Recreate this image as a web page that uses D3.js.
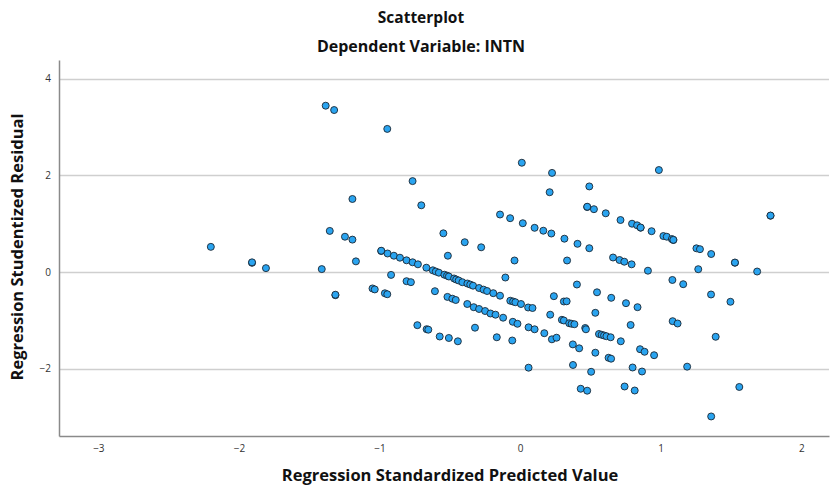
<!DOCTYPE html>
<html><head><meta charset="utf-8">
<script src="https://cdn.jsdelivr.net/npm/d3@7"></script>
<style>body{margin:0;background:#fff}svg{display:block}</style>
</head><body>
<script>
// Regression standardized predicted value (x) and studentized residual (y)
const predicted = [
 -2.20,-1.907,-1.907,-1.808,-1.411,-1.383,-1.323,-0.945,-1.314,-1.314,-1.354,-1.246,-1.193,-1.193,-1.168,
 -1.050,-1.034,-0.962,-0.945,-0.918,-0.808,-0.777,-0.765,-0.703,-0.731,
 -0.988,-0.988,-0.943,-0.898,-0.855,-0.808,-0.765,-0.727,-0.667,-0.621,-0.60,-0.578,-0.539,-0.52,-0.507,-0.470,-0.455,-0.437,-0.411,-0.375,-0.355,-0.335,-0.292,-0.26,-0.235,-0.191,-0.143,-0.070,-0.05,-0.034,0.006,0.057,0.088,
 -0.606,-0.517,-0.482,-0.458,-0.376,-0.330,-0.292,-0.249,-0.211,-0.175,-0.121,-0.052,-0.019,0.060,0.103,0.172,0.226,0.259,0.375,0.420,
 -0.665,-0.653,-0.572,-0.507,-0.443,
 -0.514,-0.394,-0.277,-0.040,-0.105,-0.546,-0.321,-0.166,-0.056,0.060,
 0.012,0.227,0.210,0.492,0.477,0.477,0.525,0.609,0.714,0.796,0.832,0.857,0.857,0.935,1.019,1.043,1.079,1.090,1.090,1.254,1.279,1.359,1.528,1.528,1.686,1.781,1.781,0.987,
 -0.143,-0.071,0.019,0.103,0.165,0.222,0.315,0.408,0.492,0.661,0.707,0.741,0.793,0.909,0.334,1.267,1.083,1.160,1.358,1.496,
 0.404,0.547,0.648,0.753,0.835,0.240,0.311,0.331,0.214,0.297,0.311,0.349,0.366,0.386,0.463,0.468,0.535,0.561,0.580,0.597,0.614,0.644,0.716,0.786,
 0.535,0.629,0.647,0.853,0.885,0.953,0.376,0.505,0.800,0.867,0.431,0.477,0.743,0.815,1.085,1.120,1.391,1.188,1.559,1.359
];
const residual = [
 0.52,0.19,0.20,0.08,0.06,3.44,3.35,2.96,-0.48,-0.47,0.85,0.73,0.67,1.51,0.22,
 -0.34,-0.36,-0.44,-0.46,-0.06,-0.19,-0.21,1.88,1.38,-1.10,
 0.434,0.44,0.383,0.337,0.296,0.242,0.201,0.159,0.089,0.035,0.01,-0.014,-0.056,-0.075,-0.093,-0.134,-0.155,-0.176,-0.211,-0.238,-0.26,-0.283,-0.331,-0.365,-0.393,-0.438,-0.490,-0.594,-0.61,-0.625,-0.662,-0.734,-0.745,
 -0.397,-0.515,-0.552,-0.579,-0.662,-0.728,-0.765,-0.807,-0.858,-0.883,-0.945,-1.030,-1.071,-1.144,-1.185,-1.266,-1.392,-1.359,-1.497,-1.578,
 -1.183,-1.193,-1.334,-1.365,-1.433,
 0.337,0.616,0.511,0.238,-0.114,0.800,-1.152,-1.350,-1.417,-1.979,
 2.26,2.05,1.65,1.77,1.344,1.35,1.299,1.214,1.075,0.999,0.966,0.916,0.92,0.844,0.744,0.730,0.682,0.662,0.665,0.490,0.472,0.372,0.192,0.195,0.010,1.164,1.168,2.109,
 1.189,1.113,1.009,0.914,0.854,0.796,0.689,0.583,0.492,0.300,0.248,0.213,0.159,0.027,0.238,0.058,-0.165,-0.252,-0.465,-0.616,
 -0.259,-0.420,-0.534,-0.645,-0.728,-0.500,-0.610,-0.606,-0.883,-0.989,-1.003,-1.059,-1.071,-1.080,-1.158,-1.185,-0.844,-1.282,-1.299,-1.313,-1.328,-1.350,-1.433,-1.096,
 -1.669,-1.774,-1.793,-1.597,-1.650,-1.721,-1.923,-2.064,-1.975,-2.058,-2.415,-2.455,-2.368,-2.451,-1.017,-1.065,-1.340,-1.958,-2.378,-2.988
];
const xTicks = [-3,-2,-1,0,1,2];
const yTicks = [-2,0,2,4];
const titleText = "Scatterplot";
const subtitleText = "Dependent Variable: INTN";
const xTitle = "Regression Standardized Predicted Value";
const yTitle = "Regression Studentized Residual";

const W = 830, H = 487;
const m = {left:59, right:1, top:60, bottom:51};
const FONT = "'Open Sans', 'DejaVu Sans', sans-serif";
const svg = d3.select("body").append("svg").attr("width",W).attr("height",H)
  .style("font-family", FONT);

const x = d3.scaleLinear().domain([-3.28, 2.197]).range([m.left, W - m.right]);
const y = d3.scaleLinear().domain([-3.392, 4.385]).range([H - m.bottom, m.top]);

// gridlines
svg.append("g").selectAll("line").data(yTicks).join("line")
  .attr("x1", m.left).attr("x2", W - m.right)
  .attr("y1", d => Math.round(y(d)) + 0.5).attr("y2", d => Math.round(y(d)) + 0.5)
  .attr("stroke", "#cfcfcf").attr("stroke-width", 1.5);

// axes
const fmt = d3.format("d");
const xAxis = svg.append("g").attr("transform", `translate(0,${H - m.bottom})`)
  .call(d3.axisBottom(x).tickValues(xTicks).tickFormat(fmt).tickSize(0).tickPadding(9));
const yAxis = svg.append("g").attr("transform", `translate(${m.left},0)`)
  .call(d3.axisLeft(y).tickValues(yTicks).tickFormat(fmt).tickSize(0).tickPadding(8));
[xAxis, yAxis].forEach(g => {
  g.select(".domain").attr("stroke", "#8a8a8a").attr("stroke-width", 1.5);
  g.selectAll("text").attr("fill", "#333").style("font-size", "10px").style("font-family", FONT);
});

// points
svg.append("g").selectAll("circle").data(predicted.map((v,i)=>[v,residual[i]])).join("circle")
  .attr("cx", d => x(d[0])).attr("cy", d => y(d[1])).attr("r", 3.5)
  .attr("fill", "#2aa4f0").attr("stroke", "#1b2733").attr("stroke-width", 0.9);

// titles
svg.append("text").attr("x", 421).attr("y", 23).attr("text-anchor","middle")
  .style("font-size","15.5px").style("font-weight","bold").attr("fill","#111").text(titleText);
svg.append("text").attr("x", 421).attr("y", 52).attr("text-anchor","middle")
  .style("font-size","16px").style("font-weight","bold").attr("fill","#111").text(subtitleText);
svg.append("text").attr("x", 450).attr("y", 481).attr("text-anchor","middle")
  .style("font-size","16.5px").style("font-weight","bold").attr("fill","#111").text(xTitle);
svg.append("text").attr("transform","translate(23,247) rotate(-90)").attr("text-anchor","middle")
  .style("font-size","16.5px").style("font-weight","bold").attr("fill","#111").text(yTitle);
</script>
</body></html>
